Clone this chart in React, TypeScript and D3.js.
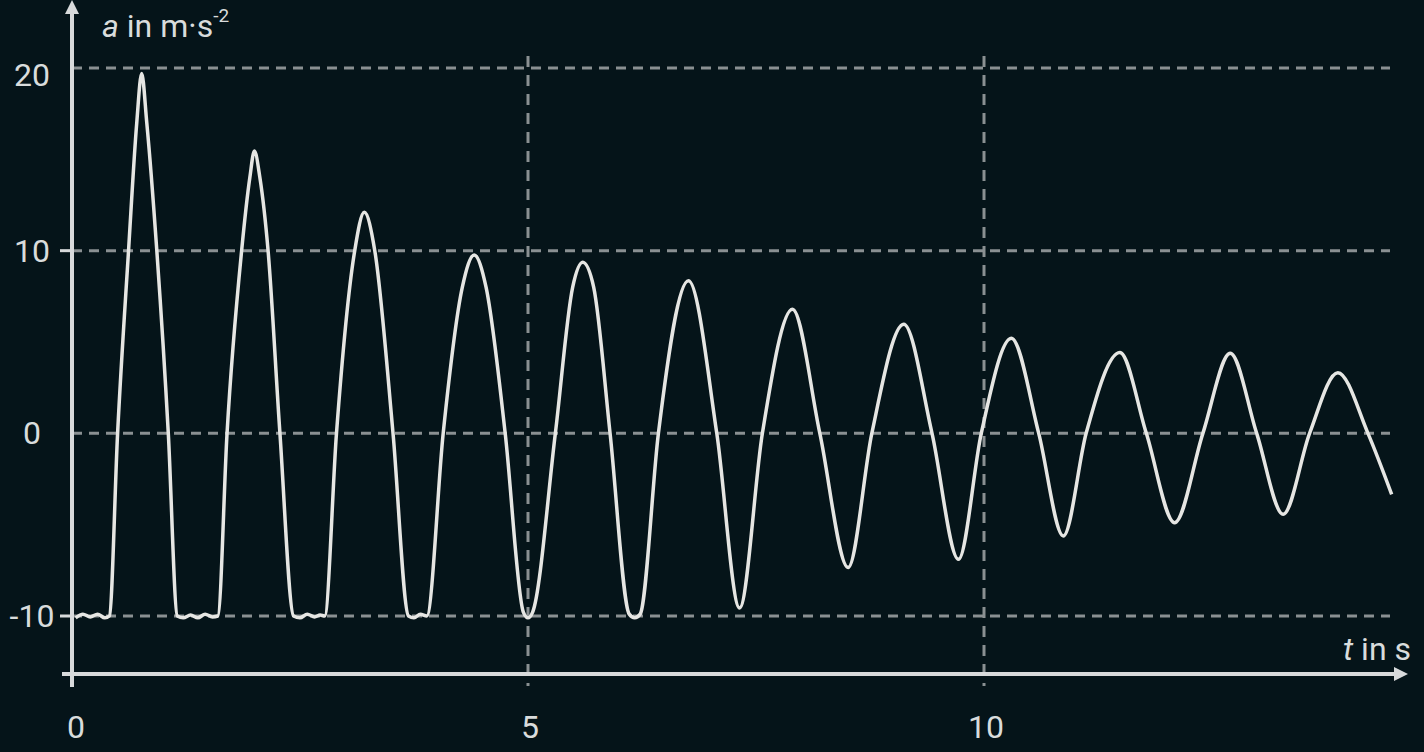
import React from 'react'
import * as d3 from 'd3'

// Acceleration of a bouncing mass
const timeValues = [
  0.04, 0.12, 0.2, 0.28, 0.36, 0.41, 0.5, 0.62, 0.71, 0.764, 0.82, 0.93, 1.056, 1.155,
  1.22, 1.3, 1.38, 1.46, 1.54, 1.6, 1.7, 1.86, 1.95, 2.0, 2.06, 2.15, 2.28, 2.43,
  2.5, 2.58, 2.66, 2.72, 2.77, 2.9, 3.1, 3.205, 3.32, 3.52, 3.69,
  3.75, 3.82, 3.89, 4.07, 4.28, 4.41, 4.54, 4.75, 4.95, 5.0, 5.05,
  5.3, 5.49, 5.6, 5.72, 5.9, 6.11, 6.17, 6.23, 6.43, 6.76, 7.07, 7.32,
  7.57, 7.9, 8.2, 8.51, 8.77, 9.12, 9.43, 9.72, 9.97, 10.3, 10.6, 10.87,
  11.12, 11.49, 11.78, 12.09, 12.4, 12.7, 12.99, 13.28, 13.57, 13.88, 14.21, 14.47,
]
const accelValues = [
  -10.1, -9.9, -10.05, -9.9, -10.1, -10, 0, 10, 17, 19.7, 17, 10, 0, -10,
  -10.1, -9.95, -10.1, -9.9, -10.05, -10, 0, 10, 14, 15.45, 14, 10, 0, -10,
  -10.1, -9.9, -10.05, -9.95, -10, 0, 10, 12.1, 10, 0, -10,
  -10.1, -9.9, -10, 0, 8, 9.76, 8, 0, -9.8, -10.1, -9.8,
  0, 8, 9.36, 8, 0, -9.9, -10.1, -9.9, 0, 8.35, 0, -9.56,
  0, 6.79, 0, -7.35, 0, 5.97, 0, -6.9, 0, 5.2, 0, -5.62,
  0, 4.42, 0, -4.89, 0, 4.38, 0, -4.43, 0, 3.32, 0, -3.34,
]

const yTicks = [-10, 0, 10, 20]
const yTickMarks = [-10, 10]
const xTicks = [0, 5, 10]
const xGrid = [5, 10]

const W = 1424
const H = 752
const BG = '#051419'
const GRID = '#8a9092'
const AXIS = '#d8dadb'
const TEXT = '#d9dcdc'
const LINE = '#e6e6e3'
const FONT = 'Roboto, "Noto Sans", sans-serif'

const App = () => {
  const x = d3.scaleLinear().domain([0, 10]).range([72, 984])
  const y = d3.scaleLinear().domain([-10, 20]).range([616, 68])

  const points: [number, number][] = timeValues.map((t, i) => [t, accelValues[i]])
  const line = d3
    .line<[number, number]>()
    .x((d) => x(d[0]))
    .y((d) => y(d[1]))
    .curve(d3.curveMonotoneX)

  const axisY = 674
  const axisX = x(0)
  const gridRight = 1390

  return (
    <svg
      width={W}
      height={H}
      style={{ position: 'absolute', left: 0, top: 0, display: 'block' }}
      fontFamily={FONT}
    >
      <rect width={W} height={H} fill={BG} />

      {/* grid */}
      {yTicks.map((v) => (
        <line
          key={'gy' + v}
          x1={axisX}
          x2={gridRight}
          y1={y(v)}
          y2={y(v)}
          stroke={GRID}
          strokeWidth={3}
          strokeDasharray="10 7"
        />
      ))}
      {xGrid.map((v) => (
        <line
          key={'gx' + v}
          x1={x(v)}
          x2={x(v)}
          y1={56}
          y2={686}
          stroke={GRID}
          strokeWidth={3}
          strokeDasharray="11 8"
        />
      ))}

      {/* axes */}
      <line x1={axisX} x2={axisX} y1={10} y2={687} stroke={AXIS} strokeWidth={4} />
      <polygon points={`${axisX},0 ${axisX - 7},14 ${axisX + 7},14`} fill={AXIS} />
      <line x1={62} x2={1397} y1={axisY} y2={axisY} stroke={AXIS} strokeWidth={4} />
      <polygon points={`1408,${axisY} 1394,${axisY - 7} 1394,${axisY + 7}`} fill={AXIS} />
      {yTickMarks.map((v) => (
        <line key={'ty' + v} x1={60} x2={axisX} y1={y(v)} y2={y(v)} stroke={AXIS} strokeWidth={3} />
      ))}

      {/* tick labels */}
      {yTicks.map((v) => (
        <text
          key={'ly' + v}
          x={32}
          y={v === 20 ? y(v) + 7 : y(v)}
          fill={TEXT}
          fontSize={32}
          textAnchor="middle"
          dominantBaseline="central"
        >
          {v}
        </text>
      ))}
      {xTicks.map((v) => (
        <text
          key={'lx' + v}
          x={x(v) + (v === 0 ? 4 : 2)}
          y={738}
          fill={TEXT}
          fontSize={32}
          textAnchor="middle"
        >
          {v}
        </text>
      ))}

      {/* axis titles */}
      <text x={102} y={37} fill={TEXT} fontSize={32}>
        <tspan fontStyle="italic">a</tspan> in m·s
        <tspan fontSize={19} dy={-15}>-2</tspan>
      </text>
      <text x={1411} y={660} fill={TEXT} fontSize={32} textAnchor="end">
        <tspan fontStyle="italic">t</tspan> in s
      </text>

      {/* data */}
      <path d={line(points) || ''} fill="none" stroke={LINE} strokeWidth={3.5} strokeLinejoin="round" />
    </svg>
  )
}

export default App
